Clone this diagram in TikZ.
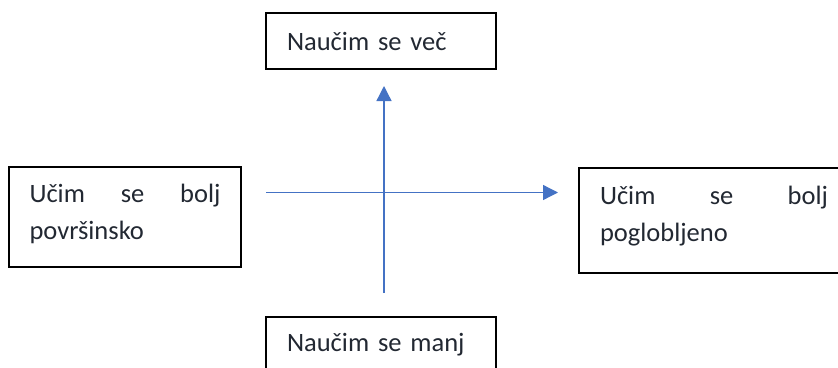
\documentclass[tikz,border=0pt]{standalone}
\usepackage{fontspec}
\setmainfont{Carlito}
\usetikzlibrary{arrows.meta}
\definecolor{axisblue}{RGB}{68,114,196}
\definecolor{txt}{RGB}{34,40,50}
\begin{document}
\begin{tikzpicture}[x=1pt,y=-1pt,
  box/.style={draw=black, line width=1.3pt, rectangle, text=txt, align=left,
    inner ysep=0pt, font=\fontsize{26.5}{37}\selectfont},
  axis/.style={draw=axisblue, line width=1.3pt, -{Triangle[length=15pt,width=15pt]}}]
\useasboundingbox (0,0) rectangle (838,367);
\node[box, text width=188pt, inner xsep=21pt, minimum height=56pt] (more) at (381,41) {Naučim se več};
\node[box, text width=188pt, inner xsep=21pt, minimum height=56pt] (less) at (381,345) {Naučim se manj};
\node[box, text width=191pt, inner xsep=20.5pt, minimum height=100pt] (surf) at (125,217)
  {\hbox to 191pt{Učim\hfill se\hfill bolj}\\površinsko\par\vspace{6pt}};
\node[box, text width=228pt, inner xsep=21pt, minimum height=105pt] (deep) at (714,220.5)
  {\hbox to 228pt{Učim\hfill se\hfill bolj}\\poglobljeno\par\vspace{8pt}};
\coordinate (vs) at (384,293);
\coordinate (ve) at (384,86);
\coordinate (hs) at (266,192.5);
\coordinate (he) at (558,192.5);
\draw[axis] (vs) -- (ve);
\draw[axis] (hs) -- (he);
\end{tikzpicture}
\end{document}
